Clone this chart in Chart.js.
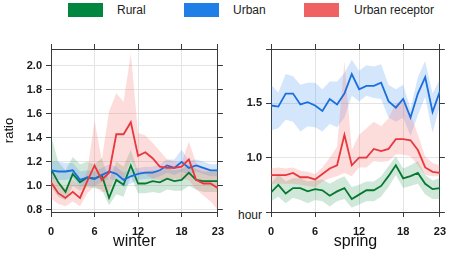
<!doctype html>
<html>

<head>
  <meta charset="utf-8" />
  <title>Ratio by hour</title>
  <script src="https://cdn.jsdelivr.net/npm/chart.js"></script>
  <style>
    body {
      margin: 0;
      width: 454px;
      height: 254px;
      overflow: hidden;
      position: relative;
      background: #fff;
      font-family: "Liberation Sans", Arial, sans-serif;
      color: #222;
    }

    .panel {
      position: absolute;
      top: 0;
      height: 254px;
    }

    .key {
      position: absolute;
      top: 3px;
      width: 35px;
      height: 14px;
    }

    .key-text {
      position: absolute;
      top: 3px;
      font-size: 12px;
      line-height: 15px;
    }

    #hour {
      position: absolute;
      right: 192px;
      top: 208px;
      font-size: 12px;
      line-height: 15px;
    }
  </style>
</head>

<body>
  <div class="key" style="left:68px; background:#00873f;"></div>
  <div class="key-text" style="left:117px;">Rural</div>
  <div class="key" style="left:184px; background:#1f7fe6;"></div>
  <div class="key-text" style="left:233px;">Urban</div>
  <div class="key" style="left:304px; background:#f06262;"></div>
  <div class="key-text" style="left:354px;">Urban receptor</div>
  <div id="hour">hour</div>

  <div class="panel" style="left:0; width:232px;"><canvas id="winterChart"></canvas></div>
  <div class="panel" style="left:232px; width:222px;"><canvas id="springChart"></canvas></div>

  <script>
    const hours = [0, 1, 2, 3, 4, 5, 6, 7, 8, 9, 10, 11, 12, 13, 14, 15, 16, 17, 18, 19, 20, 21, 22, 23];
    const hourTicks = [0, 6, 12, 18, 23];
    const winterTicks = [0.8, 1.0, 1.2, 1.4, 1.6, 1.8, 2.0];
    const springTicks = [0.5, 1.0, 1.5, 2.0];
    const springLabelled = [1.0, 1.5];

    // winter
    const winterRural = [1.14, 1.03, 0.95, 1.10, 1.03, 1.07, 1.06, 1.09, 0.90, 1.05, 1.01, 1.17, 1.02, 1.02, 1.04, 1.03, 1.06, 1.04, 1.05, 1.11, 1.05, 1.04, 1.04, 1.04];
    const winterRuralHi = [1.42, 1.20, 1.13, 1.24, 1.18, 1.20, 1.18, 1.23, 1.05, 1.20, 1.16, 1.30, 1.12, 1.12, 1.13, 1.12, 1.15, 1.13, 1.14, 1.18, 1.14, 1.12, 1.12, 1.12];
    const winterRuralLo = [0.99, 0.91, 0.88, 1.00, 0.96, 0.99, 0.98, 0.97, 0.84, 0.93, 0.91, 1.08, 0.94, 0.94, 0.95, 0.94, 0.97, 0.96, 0.96, 1.00, 0.97, 0.95, 0.95, 0.95];
    const winterUrban = [1.13, 1.12, 1.12, 1.13, 1.05, 1.07, 1.06, 1.09, 1.12, 1.10, 1.05, 1.08, 1.10, 1.11, 1.11, 1.13, 1.17, 1.15, 1.20, 1.15, 1.17, 1.15, 1.13, 1.13];
    const winterUrbanHi = [1.20, 1.20, 1.19, 1.19, 1.12, 1.13, 1.12, 1.15, 1.18, 1.16, 1.11, 1.14, 1.15, 1.16, 1.16, 1.18, 1.22, 1.22, 1.30, 1.21, 1.22, 1.20, 1.18, 1.18];
    const winterUrbanLo = [1.06, 1.05, 1.05, 1.07, 0.99, 1.01, 1.00, 1.03, 1.06, 1.04, 0.99, 1.02, 1.05, 1.06, 1.06, 1.08, 1.11, 1.09, 1.12, 1.09, 1.12, 1.10, 1.08, 1.08];
    const winterReceptor = [1.03, 0.94, 0.90, 0.95, 0.90, 1.04, 1.17, 1.05, 1.11, 1.43, 1.43, 1.53, 1.25, 1.28, 1.23, 1.16, 1.15, 1.15, 1.16, 1.22, 1.05, 1.02, 1.02, 0.98];
    const winterReceptorHi = [1.10, 1.02, 0.98, 1.05, 1.00, 1.12, 1.54, 1.22, 1.62, 1.77, 1.70, 2.10, 1.44, 1.42, 1.36, 1.29, 1.22, 1.20, 1.19, 1.37, 1.19, 1.15, 1.13, 1.12];
    const winterReceptorLo = [0.90, 0.85, 0.83, 0.87, 0.83, 0.94, 1.00, 0.95, 0.95, 1.10, 1.05, 1.22, 1.10, 1.10, 1.06, 1.05, 1.05, 1.06, 1.06, 1.05, 0.97, 0.92, 0.87, 0.80];

    // spring
    const springRural = [0.68, 0.75, 0.67, 0.72, 0.72, 0.69, 0.71, 0.70, 0.65, 0.69, 0.72, 0.62, 0.66, 0.70, 0.70, 0.74, 0.83, 0.93, 0.81, 0.83, 0.86, 0.76, 0.71, 0.72];
    const springRuralHi = [0.76, 0.85, 0.78, 0.81, 0.81, 0.78, 0.79, 0.80, 0.76, 0.80, 0.83, 0.73, 0.75, 0.78, 0.78, 0.83, 0.92, 1.01, 0.90, 0.93, 0.97, 0.84, 0.79, 0.81];
    const springRuralLo = [0.60, 0.64, 0.58, 0.63, 0.61, 0.58, 0.61, 0.60, 0.55, 0.60, 0.62, 0.54, 0.57, 0.60, 0.60, 0.64, 0.73, 0.84, 0.72, 0.74, 0.76, 0.66, 0.62, 0.62];
    const springUrban = [1.48, 1.47, 1.59, 1.59, 1.49, 1.51, 1.48, 1.43, 1.54, 1.49, 1.59, 1.77, 1.63, 1.66, 1.66, 1.69, 1.52, 1.46, 1.54, 1.37, 1.59, 1.74, 1.42, 1.61];
    const springUrbanHi = [1.67, 1.60, 1.77, 1.75, 1.67, 1.69, 1.69, 1.63, 1.70, 1.70, 1.78, 1.90, 1.80, 1.85, 1.84, 1.86, 1.67, 1.63, 1.67, 1.45, 1.74, 1.89, 1.59, 1.72];
    const springUrbanLo = [1.25, 1.27, 1.35, 1.33, 1.24, 1.29, 1.28, 1.24, 1.31, 1.28, 1.37, 1.57, 1.52, 1.57, 1.55, 1.54, 1.37, 1.33, 1.37, 1.20, 1.39, 1.56, 1.23, 1.48];
    const springReceptor = [0.84, 0.84, 0.84, 0.86, 0.82, 0.82, 0.80, 0.85, 0.90, 0.93, 1.21, 0.93, 1.00, 1.00, 1.08, 1.06, 1.08, 1.17, 1.17, 1.16, 1.07, 0.91, 0.87, 0.86];
    const springReceptorHi = [0.90, 0.91, 0.90, 0.91, 0.88, 0.87, 0.85, 0.91, 1.00, 1.10, 1.89, 1.07, 1.21, 1.27, 1.33, 1.29, 1.36, 1.50, 1.52, 1.40, 1.21, 1.01, 0.95, 0.93];
    const springReceptorLo = [0.76, 0.76, 0.76, 0.76, 0.75, 0.74, 0.73, 0.78, 0.81, 0.83, 0.86, 0.83, 0.91, 0.91, 0.97, 0.96, 0.97, 1.03, 1.03, 1.01, 0.93, 0.84, 0.83, 0.83];

    Chart.defaults.font.family = "'Liberation Sans', Arial, sans-serif";
    Chart.defaults.color = '#1a1a1a';

    const axisColor = '#3a3a3a';
    const gridColor = '#e4e4e4';

    function line(data, color) {
      return { data: data, borderColor: color, borderWidth: 1.8, pointRadius: 0, fill: false, tension: 0 };
    }

    function band(hi, lo, color) {
      return [
        { data: hi, borderColor: 'rgba(0,0,0,0)', borderWidth: 0, pointRadius: 0, backgroundColor: color, fill: '+1' },
        { data: lo, borderColor: 'rgba(0,0,0,0)', borderWidth: 0, pointRadius: 0, fill: false }
      ];
    }

    function setTicks(list) {
      return function (scale) { scale.ticks = list.map(v => ({ value: v })); };
    }

    function makePanel(id, opts) {
      return new Chart(document.getElementById(id), {
        type: 'line',
        data: {
          labels: hours,
          datasets: [
            line(opts.receptor, '#e8383e'),
            line(opts.urban, '#1a6fdc'),
            line(opts.rural, '#087830'),
            ...band(opts.receptorHi, opts.receptorLo, 'rgba(245,110,110,0.24)'),
            ...band(opts.urbanHi, opts.urbanLo, 'rgba(40,130,240,0.2)'),
            ...band(opts.ruralHi, opts.ruralLo, 'rgba(20,140,70,0.2)')
          ]
        },
        options: {
          animation: false,
          responsive: true,
          maintainAspectRatio: false,
          layout: { padding: { top: 44, right: 4, bottom: 0, left: 0 } },
          plugins: { legend: { display: false }, tooltip: { enabled: false } },
          scales: {
            x: {
              type: 'linear', min: 0, max: 23,
              afterBuildTicks: setTicks(hourTicks),
              afterFit: s => { s.height = 42; },
              grid: { color: gridColor, tickColor: axisColor, tickLength: 5 },
              border: { color: axisColor, width: 1 },
              ticks: { font: { size: 11, weight: 'bold' }, padding: 8, maxRotation: 0, autoSkip: false },
              title: { display: true, text: opts.season, font: { size: 16 }, color: '#111', padding: { top: 0, bottom: 3 } }
            },
            x2: {
              type: 'linear', position: 'top', min: 0, max: 23,
              afterBuildTicks: setTicks(hourTicks),
              afterFit: s => { s.height = 5; },
              grid: { drawOnChartArea: false, tickColor: axisColor, tickLength: 5 },
              border: { color: axisColor, width: 1 },
              ticks: { display: false }
            },
            y: {
              min: opts.yMin, max: opts.yMax,
              afterBuildTicks: setTicks(opts.yTicks),
              afterFit: s => { s.width = opts.yWidth; },
              grid: { color: gridColor, tickColor: axisColor, tickLength: 5 },
              border: { color: axisColor, width: 1 },
              ticks: {
                font: { size: 11, weight: 'bold' }, padding: 4, autoSkip: false,
                callback: v => opts.yLabelled.includes(v) ? v.toFixed(1) : ''
              },
              title: { display: !!opts.yTitle, text: opts.yTitle, font: { size: 13 }, color: '#111', padding: { top: 2, bottom: 0 } }
            },
            y2: {
              position: 'right', min: opts.yMin, max: opts.yMax,
              afterBuildTicks: setTicks(opts.yTicks),
              afterFit: s => { s.width = 5; },
              grid: { drawOnChartArea: false, tickColor: axisColor, tickLength: 5 },
              border: { color: axisColor, width: 1 },
              ticks: { display: false }
            }
          }
        }
      });
    }

    makePanel('winterChart', {
      season: 'winter', yTitle: 'ratio', yWidth: 51,
      yMin: 0.783, yMax: 2.139, yTicks: winterTicks, yLabelled: winterTicks,
      rural: winterRural, ruralHi: winterRuralHi, ruralLo: winterRuralLo,
      urban: winterUrban, urbanHi: winterUrbanHi, urbanLo: winterUrbanLo,
      receptor: winterReceptor, receptorHi: winterReceptorHi, receptorLo: winterReceptorLo
    });

    makePanel('springChart', {
      season: 'spring', yTitle: '', yWidth: 39,
      yMin: 0.5, yMax: 2.0, yTicks: springTicks, yLabelled: springLabelled,
      rural: springRural, ruralHi: springRuralHi, ruralLo: springRuralLo,
      urban: springUrban, urbanHi: springUrbanHi, urbanLo: springUrbanLo,
      receptor: springReceptor, receptorHi: springReceptorHi, receptorLo: springReceptorLo
    });
  </script>
</body>

</html>
